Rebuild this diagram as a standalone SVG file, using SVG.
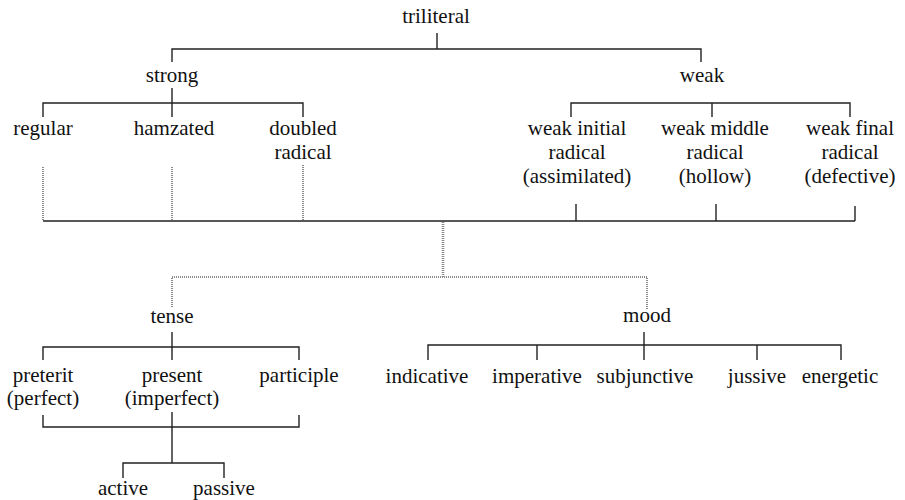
<svg xmlns="http://www.w3.org/2000/svg" width="905" height="500" viewBox="0 0 905 500">
<rect width="905" height="500" fill="#fff"/>
<g id="connectors" fill="none">
<path stroke="#222" stroke-width="1.4" d="M437 33V49M172 62V49H701V62"/>
<path stroke="#222" stroke-width="1.4" d="M172 88V117M43 117V103H303V117"/>
<path stroke="#222" stroke-width="1.4" d="M571 117V103H850V117M712 103V117"/>
<path stroke="#8a8a8a" stroke-width="2" stroke-dasharray="1 1" d="M43 167V221M172 167V221M303 165V221"/>
<path stroke="#222" stroke-width="1.4" d="M576 204V221M716 204V221M855 206V221M43 221H855"/>
<path stroke="#8a8a8a" stroke-width="2.6" stroke-dasharray="1 1" d="M443 222V277"/>
<path stroke="#8a8a8a" stroke-width="2" stroke-dasharray="1 1" d="M172 307V277H647V310"/>
<path stroke="#222" stroke-width="1.4" d="M172 332V360M43 360V347H299V360"/>
<path stroke="#222" stroke-width="1.4" d="M644 332V360M428 360V345H841V360M537 345V360M757 345V360"/>
<path stroke="#222" stroke-width="1.4" d="M43 415V427H299V415M172 412V463M123 478V463H224V478"/>
</g>
<g id="triliteral"><text font-family="Liberation Serif" font-size="21" fill="#111" text-anchor="middle" x="436" y="23">triliteral</text></g>
<g id="strong"><text font-family="Liberation Serif" font-size="21" fill="#111" text-anchor="middle" x="172" y="82">strong</text></g>
<g id="weak"><text font-family="Liberation Serif" font-size="21" fill="#111" text-anchor="middle" x="702" y="82">weak</text></g>
<g id="regular"><text font-family="Liberation Serif" font-size="21" fill="#111" text-anchor="middle" x="43" y="135">regular</text></g>
<g id="hamzated"><text font-family="Liberation Serif" font-size="21" fill="#111" text-anchor="middle" x="174" y="135">hamzated</text></g>
<g id="doubled"><text font-family="Liberation Serif" font-size="21" fill="#111" text-anchor="middle" x="303" y="135">doubled</text><text font-family="Liberation Serif" font-size="21" fill="#111" text-anchor="middle" x="303" y="159">radical</text></g>
<g id="weak-initial"><text font-family="Liberation Serif" font-size="21" fill="#111" text-anchor="middle" x="577" y="135">weak initial</text><text font-family="Liberation Serif" font-size="21" fill="#111" text-anchor="middle" x="577" y="159">radical</text><text font-family="Liberation Serif" font-size="21" fill="#111" text-anchor="middle" x="577" y="183">(assimilated)</text></g>
<g id="weak-middle"><text font-family="Liberation Serif" font-size="21" fill="#111" text-anchor="middle" x="715" y="135">weak middle</text><text font-family="Liberation Serif" font-size="21" fill="#111" text-anchor="middle" x="715" y="159">radical</text><text font-family="Liberation Serif" font-size="21" fill="#111" text-anchor="middle" x="715" y="183">(hollow)</text></g>
<g id="weak-final"><text font-family="Liberation Serif" font-size="21" fill="#111" text-anchor="middle" x="850" y="135">weak final</text><text font-family="Liberation Serif" font-size="21" fill="#111" text-anchor="middle" x="850" y="159">radical</text><text font-family="Liberation Serif" font-size="21" fill="#111" text-anchor="middle" x="850" y="183">(defective)</text></g>
<g id="tense"><text font-family="Liberation Serif" font-size="21" fill="#111" text-anchor="middle" x="172" y="323">tense</text></g>
<g id="mood"><text font-family="Liberation Serif" font-size="21" fill="#111" text-anchor="middle" x="647" y="322">mood</text></g>
<g id="preterit"><text font-family="Liberation Serif" font-size="21" fill="#111" text-anchor="middle" x="43" y="382">preterit</text><text font-family="Liberation Serif" font-size="21" fill="#111" text-anchor="middle" x="43" y="405">(perfect)</text></g>
<g id="present"><text font-family="Liberation Serif" font-size="21" fill="#111" text-anchor="middle" x="172" y="382">present</text><text font-family="Liberation Serif" font-size="21" fill="#111" text-anchor="middle" x="172" y="405">(imperfect)</text></g>
<g id="participle"><text font-family="Liberation Serif" font-size="21" fill="#111" text-anchor="middle" x="299" y="382">participle</text></g>
<g id="indicative"><text font-family="Liberation Serif" font-size="21" fill="#111" text-anchor="middle" x="427" y="383">indicative</text></g>
<g id="imperative"><text font-family="Liberation Serif" font-size="21" fill="#111" text-anchor="middle" x="537" y="383">imperative</text></g>
<g id="subjunctive"><text font-family="Liberation Serif" font-size="21" fill="#111" text-anchor="middle" x="645" y="383">subjunctive</text></g>
<g id="jussive"><text font-family="Liberation Serif" font-size="21" fill="#111" text-anchor="middle" x="757" y="383">jussive</text></g>
<g id="energetic"><text font-family="Liberation Serif" font-size="21" fill="#111" text-anchor="middle" x="840" y="383">energetic</text></g>
<g id="active"><text font-family="Liberation Serif" font-size="21" fill="#111" text-anchor="middle" x="123" y="495">active</text></g>
<g id="passive"><text font-family="Liberation Serif" font-size="21" fill="#111" text-anchor="middle" x="224" y="495">passive</text></g>
</svg>
